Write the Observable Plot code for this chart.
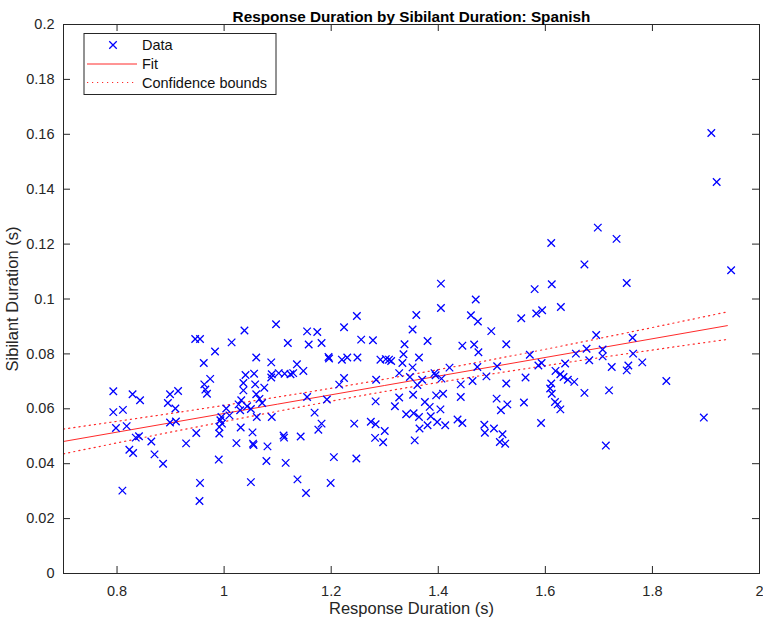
<!DOCTYPE html>
<html><head><meta charset="utf-8">
<script src="https://cdn.jsdelivr.net/npm/d3@7"></script>
<script src="https://cdn.jsdelivr.net/npm/@observablehq/plot@0.6"></script>
<style>body{margin:0;background:#fff;} #chart svg{display:block;}</style>
</head><body><div id="chart"></div>
<script>
// ---- data ----
const responseDuration = [
0.793,0.829,0.843,0.793,0.811,0.798,0.818,0.835,0.841,0.823,0.830,0.864,0.870,0.886,0.810,0.899,0.914,0.895,0.909,0.899,0.910,0.929,
1.097,1.038,0.946,0.955,1.014,1.119,0.983,0.962,1.060,1.088,1.136,0.974,0.963,0.965,0.968,1.040,1.056,1.089,1.102,1.113,1.124,1.129,
1.088,1.036,1.058,1.075,1.036,1.060,1.032,1.066,1.071,1.004,1.027,1.043,1.050,1.030,1.010,0.995,1.061,1.089,0.993,0.996,0.991,1.031,
0.948,0.991,1.053,1.023,1.054,1.055,1.081,1.111,1.112,1.143,0.990,1.079,1.115,1.137,0.955,1.050,0.954,
1.248,1.224,1.155,1.174,1.158,1.182,1.256,1.278,1.195,1.196,1.220,1.230,1.249,1.292,1.302,1.308,1.312,1.335,1.337,1.352,1.359,
1.148,1.333,1.352,1.224,1.215,1.284,1.327,1.347,1.155,1.192,1.283,1.327,1.319,1.353,1.169,1.182,1.176,1.243,1.274,1.283,1.300,
1.282,1.297,1.340,1.354,1.356,1.205,1.247,1.199,1.153,
1.405,1.405,1.470,1.461,1.474,1.499,1.555,1.380,1.445,1.467,1.475,1.527,1.364,1.421,1.393,1.395,1.473,1.510,1.571,1.370,1.406,
1.442,1.464,1.490,1.527,1.563,1.361,1.396,1.409,1.442,1.375,1.384,1.404,1.386,1.364,1.509,1.529,1.517,1.560,1.398,1.413,1.380,
1.365,1.436,1.445,1.486,1.487,1.504,1.520,1.515,1.525,
1.698,1.733,1.611,1.673,1.752,1.580,1.612,1.583,1.594,1.629,1.695,1.763,1.587,1.593,1.637,1.657,1.677,1.707,1.682,1.707,1.724,
1.764,1.781,1.755,1.752,1.619,1.628,1.634,1.642,1.654,1.611,1.609,1.612,1.673,1.719,1.618,1.623,1.628,1.592,1.713,
1.910,1.920,1.947,1.826,1.896
];
const sibilantDuration = [
0.0664,0.0653,0.0631,0.0588,0.0596,0.0530,0.0537,0.0495,0.0500,0.0451,0.0439,0.0481,0.0434,0.0400,0.0302,0.0653,0.0665,0.0621,0.0601,0.0550,0.0554,0.0474,
0.0908,0.0885,0.0854,0.0854,0.0842,0.0840,0.0809,0.0767,0.0787,0.0769,0.0762,0.0709,0.0689,0.0670,0.0655,0.0723,0.0728,0.0726,0.0730,0.0728,0.0726,0.0730,
0.0714,0.0694,0.0689,0.0677,0.0667,0.0653,0.0631,0.0636,0.0621,0.0601,0.0616,0.0609,0.0599,0.0595,0.0576,0.0570,0.0570,0.0570,0.0558,0.0546,0.0534,0.0532,
0.0512,0.0510,0.0514,0.0475,0.0473,0.0468,0.0463,0.0503,0.0495,0.0499,0.0415,0.0410,0.0403,0.0343,0.0330,0.0333,0.0264,
0.0938,0.0897,0.0882,0.0880,0.0834,0.0840,0.0852,0.0850,0.0789,0.0783,0.0779,0.0787,0.0787,0.0779,0.0781,0.0779,0.0774,0.0799,0.0835,0.0889,0.0942,
0.0738,0.0767,0.0751,0.0712,0.0688,0.0706,0.0730,0.0716,0.0643,0.0634,0.0627,0.0641,0.0609,0.0651,0.0586,0.0546,0.0524,0.0546,0.0553,0.0544,0.0519,
0.0494,0.0478,0.0580,0.0584,0.0485,0.0424,0.0419,0.0330,0.0293,
0.1056,0.0967,0.0998,0.0941,0.0918,0.0883,0.0930,0.0847,0.0830,0.0834,0.0806,0.0835,0.0787,0.0750,0.0730,0.0722,0.0752,0.0755,0.0797,0.0706,0.0710,
0.0689,0.0701,0.0718,0.0692,0.0714,0.0687,0.0649,0.0655,0.0643,0.0625,0.0607,0.0598,0.0573,0.0570,0.0637,0.0616,0.0595,0.0623,0.0552,0.0540,0.0540,
0.0528,0.0561,0.0548,0.0542,0.0513,0.0528,0.0507,0.0479,0.0473,
0.1260,0.1219,0.1204,0.1126,0.1058,0.1036,0.1054,0.0947,0.0959,0.0971,0.0869,0.0859,0.0758,0.0767,0.0765,0.0801,0.0819,0.0816,0.0777,0.0791,0.0752,
0.0801,0.0769,0.0758,0.0740,0.0738,0.0726,0.0716,0.0706,0.0698,0.0692,0.0674,0.0655,0.0658,0.0667,0.0625,0.0616,0.0598,0.0548,0.0466,
0.1605,0.1426,0.1105,0.0701,0.0568
];
// fitted line and confidence bounds, read at sample positions
const fitX   = [0.7, 0.9, 1.1, 1.3, 1.5, 1.7, 1.94];
const fitY   = [0.0481, 0.0549, 0.0617, 0.0685, 0.0753, 0.0821, 0.0903];
const upperY = [0.0526, 0.0583, 0.0643, 0.0708, 0.0779, 0.0856, 0.0953];
const lowerY = [0.0436, 0.0515, 0.0591, 0.0663, 0.0727, 0.0786, 0.0853];
// ticks
const xTicks = [0.8, 1, 1.2, 1.4, 1.6, 1.8, 2];
const xTickLabels = ["0.8", "1", "1.2", "1.4", "1.6", "1.8", "2"];
const yTicks = [0, 0.02, 0.04, 0.06, 0.08, 0.1, 0.12, 0.14, 0.16, 0.18, 0.2];
const yTickLabels = ["0", "0.02", "0.04", "0.06", "0.08", "0.1", "0.12", "0.14", "0.16", "0.18", "0.2"];
// texts
const titleText = "Response Duration by Sibilant Duration: Spanish";
const xLabel = "Response Duration (s)";
const yLabel = "Sibilant Duration (s)";
const legendLabels = ["Data", "Fit", "Confidence bounds"];

// ---- build ----
const BLUE = "#0000ff", RED = "#ff2a2a", AX = "#262626";
const FONT = "'Liberation Sans', Arial, Helvetica, sans-serif";
const W = 763, H = 625;
const M = {top: 24, right: 4, bottom: 52, left: 63};
const innerW = W - M.left - M.right, innerH = H - M.top - M.bottom;
const TICK = 7;
const dotR = 3.5;

const points = responseDuration.map((x, i) => ({x, y: sibilantDuration[i]}));
const fit = fitX.map((x, i) => ({x, fit: fitY[i], upper: upperY[i], lower: lowerY[i]}));

function legend(index, scales, values, dimensions) {
  const {marginLeft, marginTop} = dimensions;
  const g = d3.create("svg:g");
  const bx = marginLeft + 21, by = marginTop + 9.5, bw = 192, bh = 61;
  g.append("rect").attr("x", bx).attr("y", by).attr("width", bw).attr("height", bh)
    .attr("fill", "white").attr("stroke", AX).attr("stroke-width", 1);
  const rows = [by + 11.5, by + 30.5, by + 49];
  const sx = bx + 29, lx0 = bx + 3, lx1 = bx + 53, tx = bx + 58;
  g.append("path").attr("transform", `translate(${sx},${rows[0]})`)
    .attr("d", d3.symbol(d3.symbolTimes, Math.PI * dotR * dotR)())
    .attr("fill", "none").attr("stroke", BLUE).attr("stroke-width", 1.3);
  g.append("line").attr("x1", lx0).attr("x2", lx1).attr("y1", rows[1]).attr("y2", rows[1])
    .attr("stroke", RED).attr("stroke-width", 1);
  g.append("line").attr("x1", lx0).attr("x2", lx1).attr("y1", rows[2]).attr("y2", rows[2])
    .attr("stroke", RED).attr("stroke-width", 1.2).attr("stroke-dasharray", "1.2,3.8");
  legendLabels.forEach((t, i) => {
    g.append("text").attr("x", tx).attr("y", rows[i]).attr("dy", "0.35em")
      .attr("text-anchor", "start")
      .attr("fill", "#111").attr("font-size", 14.5).attr("font-family", FONT).text(t);
  });
  return g.node();
}

const chart = Plot.plot({
  width: W, height: H,
  marginTop: M.top, marginRight: M.right, marginBottom: M.bottom, marginLeft: M.left,
  style: {fontFamily: FONT, background: "white", color: AX},
  x: {domain: [0.7, 2]},
  y: {domain: [0, 0.2]},
  marks: [
    Plot.line(fit, {x: "x", y: "fit", stroke: RED, strokeWidth: 1}),
    Plot.line(fit, {x: "x", y: "upper", stroke: RED, strokeWidth: 1.2, strokeDasharray: "1.2,4", curve: "natural"}),
    Plot.line(fit, {x: "x", y: "lower", stroke: RED, strokeWidth: 1.2, strokeDasharray: "1.2,4", curve: "natural"}),
    Plot.dot(points, {x: "x", y: "y", symbol: "times", r: dotR, stroke: BLUE, strokeWidth: 1.3}),
    // inward ticks on all four sides
    Plot.tickX(xTicks, {x: d => d, stroke: AX, insetTop: innerH - TICK}),
    Plot.tickX(xTicks, {x: d => d, stroke: AX, insetBottom: innerH - TICK}),
    Plot.tickY(yTicks, {y: d => d, stroke: AX, insetRight: innerW - TICK}),
    Plot.tickY(yTicks, {y: d => d, stroke: AX, insetLeft: innerW - TICK}),
    Plot.frame({stroke: AX, strokeWidth: 1}),
    Plot.axisX(xTicks, {tickSize: 0, tickPadding: 12, fontSize: 14.5, label: null, fill: AX,
      tickFormat: d => xTickLabels[xTicks.indexOf(d)]}),
    Plot.axisY(yTicks, {tickSize: 0, tickPadding: 9, fontSize: 14.5, label: null, fill: AX,
      tickFormat: d => yTickLabels[yTicks.indexOf(d)]}),
    Plot.text([titleText], {frameAnchor: "top", dy: -13, fontSize: 15.3, fontWeight: "bold", fill: "#000", text: d => d}),
    Plot.text([xLabel], {frameAnchor: "bottom", dy: 40, fontSize: 16.5, fill: AX, text: d => d}),
    Plot.text([yLabel], {frameAnchor: "left", textAnchor: "middle", dx: -51, rotate: -90, fontSize: 16.5, fill: AX, text: d => d}),
    legend
  ]
});
document.getElementById("chart").append(chart);
</script>
</body></html>
